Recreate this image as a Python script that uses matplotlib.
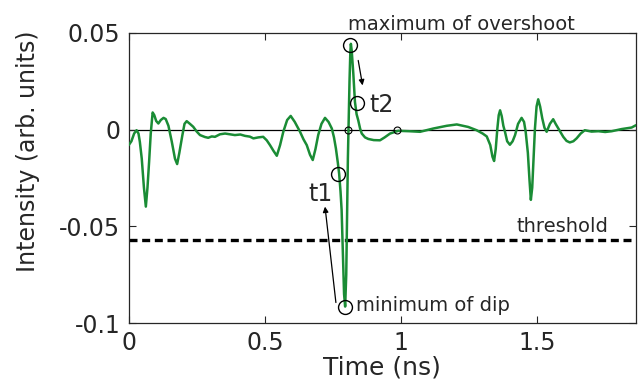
import matplotlib.pyplot as plt

# trace (time in ns, intensity in arb. units)
time_ns = [0.0, 0.010, 0.020, 0.029, 0.036, 0.041, 0.048, 0.056, 0.063, 0.069,
           0.075, 0.081, 0.088, 0.094, 0.101, 0.109, 0.118, 0.128, 0.136, 0.146,
           0.158, 0.170, 0.178, 0.186, 0.197, 0.205, 0.213, 0.225, 0.237, 0.250,
           0.262, 0.280, 0.292, 0.305, 0.317, 0.335, 0.354, 0.372, 0.390, 0.410,
           0.427, 0.445, 0.458, 0.476, 0.494, 0.507, 0.519, 0.532, 0.544, 0.556,
           0.568, 0.582, 0.595, 0.610, 0.629, 0.642, 0.654, 0.666, 0.676, 0.686,
           0.696, 0.708, 0.721, 0.734, 0.746, 0.754, 0.761, 0.768, 0.773, 0.778,
           0.782, 0.787, 0.791, 0.795, 0.799, 0.802, 0.805, 0.808, 0.811, 0.814,
           0.816, 0.819, 0.822, 0.825, 0.831, 0.837, 0.843, 0.850, 0.856, 0.868,
           0.880, 0.900, 0.923, 0.940, 0.960, 0.990, 1.030, 1.070, 1.119, 1.168,
           1.205, 1.247, 1.278, 1.300, 1.315, 1.328, 1.336, 1.342, 1.348, 1.354,
           1.359, 1.364, 1.370, 1.376, 1.382, 1.390, 1.400, 1.410, 1.419, 1.430,
           1.443, 1.452, 1.458, 1.466, 1.472, 1.477, 1.482, 1.487, 1.492, 1.498,
           1.504, 1.511, 1.519, 1.527, 1.535, 1.547, 1.559, 1.568, 1.578, 1.596,
           1.608, 1.620, 1.633, 1.645, 1.660, 1.675, 1.700, 1.725, 1.750, 1.774,
           1.810, 1.847, 1.863]
intensity = [-0.0080, -0.0060, -0.0020, -0.0003, -0.0020, -0.0063, -0.0150, -0.0300,
             -0.0398, -0.0300, -0.0166, -0.0020, 0.0089, 0.0075, 0.0045, 0.0032,
             0.0050, 0.0061, 0.0055, 0.0020, -0.0060, -0.0150, -0.0178, -0.0120,
             -0.0030, 0.0030, 0.0044, 0.0030, 0.0015, -0.0010, -0.0028, -0.0038,
             -0.0042, -0.0035, -0.0037, -0.0024, -0.0020, -0.0024, -0.0028, -0.0025,
             -0.0032, -0.0036, -0.0045, -0.0040, -0.0037, -0.0055, -0.0080, -0.0110,
             -0.0135, -0.0080, -0.0010, 0.0050, 0.0071, 0.0040, -0.0010, -0.0050,
             -0.0080, -0.0130, -0.0157, -0.0100, -0.0028, 0.0030, 0.0061, 0.0040,
             0.0006, -0.0040, -0.0097, -0.0170, -0.0229, -0.0320, -0.0415, -0.0650,
             -0.0850, -0.0915, -0.0750, -0.0450, -0.0150, 0.0050, 0.0250, 0.0400,
             0.0444, 0.0410, 0.0350, 0.0289, 0.0143, 0.0080, 0.0049, 0.0005,
             -0.0020, -0.0040, -0.0048, -0.0054, -0.0055, -0.0040, -0.0020, -0.0006,
             -0.0008, -0.0011, 0.0006, 0.0020, 0.0027, 0.0014, -0.0003, -0.0020,
             -0.0035, -0.0080, -0.0140, -0.0162, -0.0100, 0.0006, 0.0075, 0.0100,
             0.0070, 0.0020, -0.0011, -0.0060, -0.0078, -0.0060, -0.0028, 0.0030,
             0.0061, 0.0040, -0.0011, -0.0120, -0.0260, -0.0363, -0.0300, -0.0150,
             0.0006, 0.0120, 0.0157, 0.0120, 0.0058, 0.0010, -0.0011, 0.0030,
             0.0054, 0.0030, 0.0006, -0.0037, -0.0058, -0.0066, -0.0060, -0.0045,
             -0.0020, -0.0003, -0.0010, -0.0008, -0.0012, -0.0008, 0.0003, 0.0011,
             0.0023]

threshold = -0.0572

# marked points
big_t = [0.794, 0.770, 0.8145, 0.840]
big_v = [-0.0919, -0.0229, 0.0440, 0.0138]
zero_t = [0.806, 0.986]
zero_v = [0.0, 0.0]

xticks = [0, 0.5, 1, 1.5]
xticklabels = ['0', '0.5', '1', '1.5']
yticks = [-0.1, -0.05, 0, 0.05]
yticklabels = ['-0.1', '-0.05', '0', '0.05']

txt = '#262626'
plt.rcParams['font.family'] = 'DejaVu Sans'

fig = plt.figure(figsize=(6.38, 3.81), dpi=100)
ax = fig.add_axes([0.2017, 0.1522, 0.7951, 0.7612])

ax.axhline(0, color='black', lw=0.9, zorder=1)
ax.axhline(threshold, color='black', lw=2.4, linestyle=(0, (2.4, 1.4)), zorder=2)
ax.plot(time_ns, intensity, color='#1a8c35', lw=1.8, zorder=3,
        solid_joinstyle='round', solid_capstyle='round')

ax.plot(big_t, big_v, 'o', ms=10, mfc='none', mec='black', mew=1.0, zorder=4, clip_on=False)
ax.plot(zero_t, zero_v, 'o', ms=5, mfc='none', mec='black', mew=0.8, zorder=4)

ax.annotate('', xy=(0.721, -0.0398), xytext=(0.761, -0.0894),
            arrowprops=dict(arrowstyle='-|>', color='black', lw=0.9, mutation_scale=8,
                            shrinkA=0, shrinkB=0))
ax.annotate('', xy=(0.859, 0.0229), xytext=(0.843, 0.0358),
            arrowprops=dict(arrowstyle='-|>', color='black', lw=0.9, mutation_scale=8,
                            shrinkA=0, shrinkB=0))

ax.text(1.222, 0.0516, 'maximum of overshoot', fontsize=14, color=txt,
        ha='center', va='baseline', clip_on=False)
ax.text(1.425, -0.0531, 'threshold', fontsize=14, color=txt, ha='left', va='baseline')
ax.text(0.835, -0.0938, 'minimum of dip', fontsize=14, color=txt, ha='left', va='baseline')
ax.text(0.660, -0.0367, 't1', fontsize=17, color=txt, ha='left', va='baseline')
ax.text(0.884, 0.0092, 't2', fontsize=17, color=txt, ha='left', va='baseline')

ax.set_xlim(0, 1.863)
ax.set_ylim(-0.1, 0.05)
ax.set_xticks(xticks)
ax.set_xticklabels(xticklabels)
ax.set_yticks(yticks)
ax.set_yticklabels(yticklabels)
ax.tick_params(direction='in', length=5, width=0.8, top=True, right=True,
               labelsize=17, colors=txt, pad=6)
for s in ax.spines.values():
    s.set_color(txt)
    s.set_linewidth(0.9)

ax.set_xlabel('Time (ns)', fontsize=18, color=txt)
ax.set_ylabel('Intensity (arb. units)', fontsize=17, color=txt)
ax.xaxis.set_label_coords(0.5, -0.153)
ax.yaxis.set_label_coords(-0.1985, 0.593)
ax.xaxis.label.set_va('center')
ax.yaxis.label.set_va('center')

fig.savefig('out.png', dpi=100)
